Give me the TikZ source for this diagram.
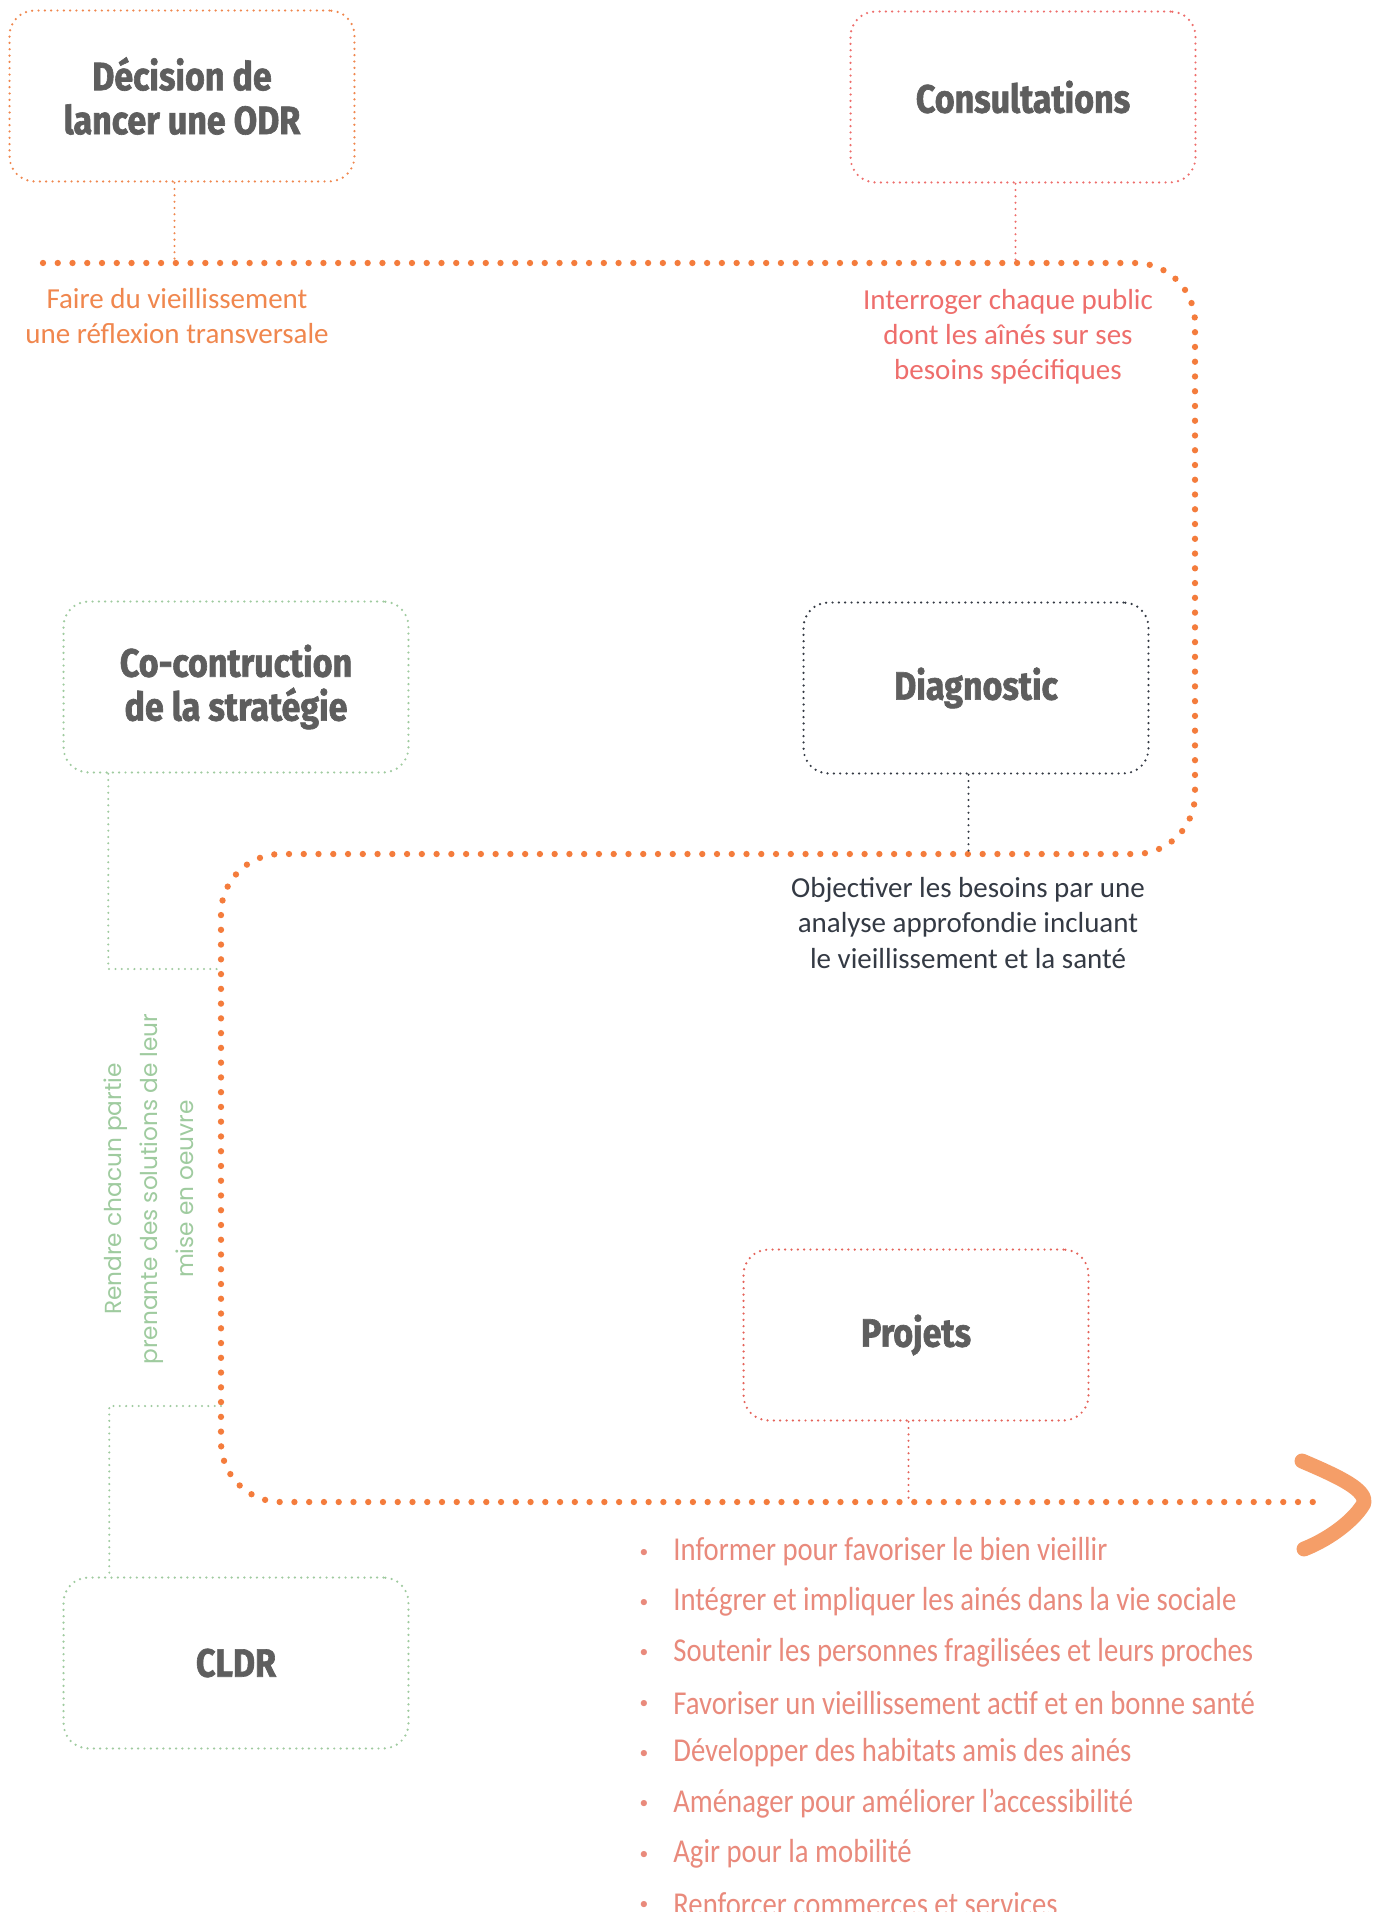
\documentclass[tikz,border=0pt]{standalone}
\usepackage{fontspec}
\setmainfont{Carlito}
\newfontfamily\titlefont{Fira Sans}[FakeStretch=0.86, BoldFeatures={FakeBold=1.6}]
\newfontfamily\notefont{Carlito}
\newfontfamily\itemfont{Carlito}[FakeStretch=0.86]
\newfontfamily\sidefont{Poppins}

\definecolor{trackorange}{HTML}{F47C3C}
\definecolor{arroworange}{HTML}{F59E68}
\definecolor{noteorange}{HTML}{F0874E}
\definecolor{notered}{HTML}{EE6E6C}
\definecolor{itemred}{HTML}{E98A7C}
\definecolor{boxred}{HTML}{E5635A}
\definecolor{stepgreen}{HTML}{9FCB9F}
\definecolor{darkslate}{HTML}{343A44}
\definecolor{titlegray}{HTML}{5E5E5E}

\tikzset{
  box/.style={draw, rounded corners=0.5cm, line width=1.4pt, line cap=round,
    dash pattern=on 0pt off 3.6pt, minimum width=6.9cm, minimum height=3.42cm,
    align=center, text=titlegray, font=\titlefont\bfseries\fontsize{22.5}{25}\selectfont},
  track/.style={draw=trackorange, line width=3.6pt, line cap=round,
    dash pattern=on 0pt off 8.4pt, rounded corners=1.2cm},
  link/.style={line width=1.3pt, line cap=round, dash pattern=on 0pt off 3.6pt},
  note/.style={align=center, font=\notefont\fontsize{16.5}{20}\selectfont},
  item/.style={anchor=west, inner sep=0pt, text=itemred,
    font=\itemfont\fontsize{19}{22}\selectfont},
}

\begin{document}
\begin{tikzpicture}[x=0.02cm,y=-0.02cm]
  \fill[white] (0,0) rectangle (1378,1912);
  \useasboundingbox (0,0) rectangle (1378,1912);

  % the steps
  \node[box, draw=noteorange] (dec) at (182,96) {Décision de\\lancer une ODR};
  \node[box, draw=notered] (con) at (1023,97) {Consultations};
  \node[box, draw=stepgreen] (coc) at (236,687) {Co-contruction\\de la stratégie};
  \node[box, draw=darkslate] (dia) at (976,688) {Diagnostic};
  \node[box, draw=boxred] (prj) at (916,1335) {Projets};
  \node[box, draw=stepgreen] (cldr) at (236,1663) {CLDR};

  % points on the track
  \coordinate (t0) at (43,263);
  \coordinate (t1) at (1195,263);
  \coordinate (t2) at (1195,854);
  \coordinate (t3) at (221,854);
  \coordinate (t4) at (221,1502);
  \coordinate (t5) at (1323,1502);
  \coordinate (g1) at (221,969);
  \coordinate (g2) at (221,1406);

  \draw[track] (t0) -- (t1) -- (t2) -- (t3) -- (t4) -- (t5);
  \draw[arroworange, line width=8.5pt, line cap=round, line join=round]
    (1302,1461) .. controls (1342,1478) and (1366,1490) .. (1364,1503)
    .. controls (1356,1518) and (1332,1538) .. (1304,1549);

  % links from the steps
  \draw[link, noteorange] ([xshift=-0.15cm]dec.south) -- ([xshift=-0.15cm]dec.south |- t0);
  \draw[link, notered] ([xshift=-0.15cm]con.south) -- ([xshift=-0.15cm]con.south |- t1);
  \draw[link, darkslate] ([xshift=-0.15cm]dia.south) -- ([xshift=-0.15cm]dia.south |- t2);
  \draw[link, boxred] ([xshift=-0.15cm]prj.south) -- ([xshift=-0.15cm]prj.south |- t5);
  \draw[link, stepgreen] ([xshift=0.92cm]coc.south west) |- (g1);
  \draw[link, stepgreen] (g2) -| ([xshift=0.94cm]cldr.north west);

  % notes
  \node[note, text=noteorange] (faire) at (177,316)
    {Faire du vieillissement\\une réflexion transversale};
  \node[note, text=notered] (interr) at (1008,337)
    {Interroger chaque public\\dont les aînés sur ses\\besoins spécifiques};
  \node[note, text=darkslate] (object) at (968,923)
    {Objectiver les besoins par une\\analyse approfondie incluant\\le vieillissement et la santé};
  \node[rotate=90, align=center, text=stepgreen,
    font=\sidefont\fontsize{13.2}{20.5}\selectfont] (rendre) at (149,1189)
    {Rendre chacun partie\\prenante des solutions de leur\\mise en oeuvre};

  % projects
  \foreach \txt [count=\i] in {Informer pour favoriser le bien vieillir,
      Intégrer et impliquer les ainés dans la vie sociale,
      Soutenir les personnes fragilisées et leurs proches,
      Favoriser un vieillissement actif et en bonne santé,
      Développer des habitats amis des ainés,
      Aménager pour améliorer l’accessibilité,
      Agir pour la mobilité,
      Renforcer commerces et services}{
    \node[item] (it\i) at (673,1501.5+50.3*\i) {\txt};
    \node[text=itemred, inner sep=0pt, font=\fontsize{10}{10}\selectfont]
      (bu\i) at (644,1503+50.3*\i) {\textbullet};
  }
\end{tikzpicture}
\end{document}
